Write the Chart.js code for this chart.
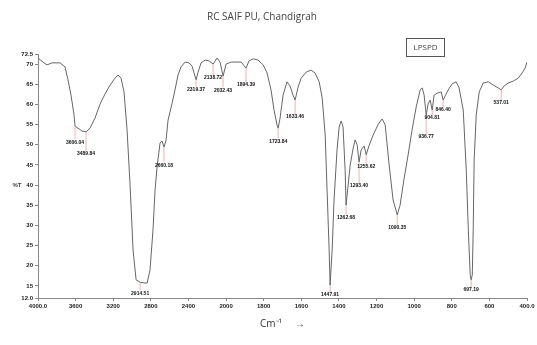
<!DOCTYPE html>
<html lang="en">
<head>
    <meta charset="UTF-8">
    <title>RC SAIF PU, Chandigrah</title>
    <script src="https://cdn.jsdelivr.net/npm/chart.js@4.4.1/dist/chart.umd.min.js"></script>
    <style>
      body { margin: 0; background: #fff; }
      #wrap { width: 537px; height: 345px; }
    </style>
</head>
<body>
<div id="wrap"><canvas id="irChart" width="537" height="345"></canvas></div>

<script>
  // spectrum: wavenumber (cm-1) and %T
  var waveNumbers = [4000, 3947, 3904, 3851, 3766, 3713, 3681, 3649, 3617, 3606, 3574, 3532, 3489, 3447, 3394,
    3340, 3287, 3234, 3181, 3149, 3117, 3085, 3053, 3021, 2989, 2957, 2914, 2862, 2840, 2809, 2777, 2755, 2734,
    2702, 2681, 2660, 2638, 2617, 2574, 2543, 2511, 2479, 2436, 2394, 2362, 2319, 2298, 2266, 2223, 2181, 2138,
    2096, 2064, 2032, 2000, 1973, 1920, 1894, 1878, 1856, 1830, 1803, 1782, 1761, 1745, 1729, 1723, 1713, 1697,
    1676, 1660, 1644, 1633, 1617, 1601, 1574, 1548, 1527, 1505, 1489, 1473, 1463, 1452, 1447, 1436, 1426, 1410,
    1399, 1388, 1378, 1367, 1362, 1351, 1340, 1324, 1314, 1303, 1293, 1282, 1266, 1255, 1239, 1218, 1191, 1170,
    1154, 1133, 1112, 1090, 1075, 1053, 1032, 1011, 989, 968, 957, 947, 936, 926, 915, 904, 894, 878, 856, 846,
    835, 819, 798, 777, 761, 739, 723, 712, 702, 697, 691, 686, 681, 670, 654, 633, 606, 580, 553, 537, 521, 500,
    473, 447, 426, 410, 400]
  var transmittance = [71.5, 70.5, 69.8, 70.3, 70.3, 69.3, 66.1, 62.3, 57.4, 54.6, 54.1, 53.4, 53.2, 54.1, 56.6,
    60.1, 62.6, 64.8, 66.5, 67.3, 66.5, 63.1, 53.7, 40.0, 23.9, 16.5, 15.9, 15.7, 15.7, 18.9, 28.9, 38.8, 44.5,
    50.4, 50.9, 49.4, 51.2, 56.1, 60.3, 63.6, 67.3, 69.3, 70.5, 70.3, 69.5, 66.1, 68.0, 70.3, 71.0, 70.8, 70.0,
    71.5, 70.5, 67.0, 70.0, 70.5, 70.5, 69.0, 70.8, 71.3, 71.0, 69.8, 67.8, 63.6, 58.6, 54.9, 54.1, 56.6, 62.3,
    65.6, 64.6, 62.3, 61.1, 64.3, 66.5, 68.0, 68.5, 67.8, 65.6, 61.6, 52.4, 38.8, 23.9, 15.2, 23.9, 36.3, 48.7,
    54.4, 55.9, 54.4, 43.7, 35.0, 40.0, 45.0, 49.2, 51.2, 50.0, 45.7, 48.7, 49.7, 47.5, 49.9, 52.4, 55.1, 56.4,
    54.9, 45.0, 36.3, 32.6, 35.0, 41.7, 47.5, 53.7, 59.4, 63.6, 64.1, 62.3, 57.4, 60.1, 61.1, 58.6, 62.3, 62.8, 63.1, 61.1,
    62.1, 63.6, 65.1, 65.6, 64.1, 58.6, 43.7, 28.9, 17.7, 16.5, 17.7, 28.9, 46.2, 57.4, 63.1, 65.3, 65.6, 64.8, 64.1, 63.6, 64.6, 65.3,
    65.8, 66.5, 67.8, 69.0, 70.5]

  // marked peaks
  var peakWave = [3606, 3489, 2914, 2660, 2319, 2138, 2032, 1894, 1723, 1633, 1447, 1362, 1293, 1255, 1090, 936, 904, 846, 697, 537]
  var peakT = [54.6, 53.2, 15.9, 49.4, 66.1, 70.0, 67.0, 69.0, 54.1, 61.1, 15.2, 35.0, 45.7, 47.5, 32.6, 57.4, 58.6, 61.1, 16.5, 63.6]
  var peakText = ['3606.04', '3489.84', '2914.51', '2660.18', '2319.37', '2138.72', '2032.43', '1894.39', '1723.84',
    '1633.46', '1447.91', '1362.68', '1293.40', '1255.62', '1090.35', '936.77', '904.81', '846.40', '697.19', '537.01']

  var xTicks = [4000, 3600, 3200, 2800, 2400, 2000, 1800, 1600, 1400, 1200, 1000, 800, 600, 400]
  var xTickText = ['4000.0', '3600', '3200', '2800', '2400', '2000', '1800', '1600', '1400', '1200', '1000', '800', '600', '400.0']
  var yTicks = [12, 15, 20, 25, 30, 35, 40, 45, 50, 55, 60, 65, 70, 72.5]
  var yTickText = ['12.0', '15', '20', '25', '30', '35', '40', '45', '50', '55', '60', '65', '70', '72.5']

  // how far below each peak its label sits (px)
  var labelDrop = [16, 22, 11, 18, 10, 14, 14, 17, 13, 17, 10, 12, 24, 12, 13, 22, 8, 10, 10, 13]

  // x axis like the instrument: 400 per division above 2000, 200 per division below
  class WaveScale extends Chart.LinearScale {
    getPixelForValue(value) {
      var u = value >= 2000 ? (4000 - value) / 400 : 5 + (2000 - value) / 200
      return this.getPixelForDecimal(u / 13)
    }
    getValueForPixel(pixel) {
      var u = this.getDecimalForPixel(pixel) * 13
      return u <= 5 ? 4000 - u * 400 : 2000 - (u - 5) * 200
    }
  }
  WaveScale.id = 'wave'
  WaveScale.defaults = Chart.LinearScale.defaults
  Chart.register(WaveScale)

  var tickFont = { family: 'Liberation Sans', size: 6, weight: 'bold' }

  var extras = {
    id: 'extras',
    afterDatasetsDraw: function(chart) {
      var ctx = chart.ctx
      var sx = chart.scales.x, sy = chart.scales.y
      ctx.save()
      // peak markers
      ctx.font = 'bold 5px "Liberation Sans"'
      ctx.textAlign = 'center'
      ctx.textBaseline = 'middle'
      for (var i = 0; i < peakWave.length; i++) {
        var px = sx.getPixelForValue(peakWave[i])
        var py = sy.getPixelForValue(peakT[i])
        var ly = py + labelDrop[i]
        ctx.strokeStyle = '#e8a0a0'
        ctx.lineWidth = 0.8
        ctx.beginPath()
        ctx.moveTo(px, py)
        ctx.lineTo(px, ly - 3)
        ctx.stroke()
        ctx.fillStyle = '#111'
        ctx.fillText(peakText[i], px, ly)
      }
      // title
      ctx.font = '10px "Open Sans"'
      ctx.fillStyle = '#444'
      ctx.fillText('RC SAIF PU, Chandigrah', 262, 17)
      // sample tag
      ctx.strokeStyle = '#555'
      ctx.lineWidth = 1
      ctx.strokeRect(406.5, 38.5, 38, 18)
      ctx.font = '8px "Open Sans"'
      ctx.fillText('LPSPD', 425.5, 48)
      // y label
      ctx.font = 'bold 6px "Liberation Sans"'
      ctx.fillText('%T', 17, sy.getPixelForValue(40))
      ctx.restore()
    }
  }

  var ctx = document.getElementById('irChart').getContext('2d')
  var irChart = new Chart(ctx, {
    type: 'line',
    data: {
      datasets: [{
        data: waveNumbers.map(function(w, i) { return { x: w, y: transmittance[i] } }),
        borderColor: '#666',
        borderWidth: 1,
        pointRadius: 0,
        tension: 0,
        fill: false
      }]
    },
    options: {
      responsive: false,
      animation: false,
      events: [],
      layout: { padding: { top: 54, right: 10, left: 0, bottom: 0 } },
      plugins: { legend: { display: false }, title: { display: false }, tooltip: { enabled: false } },
      scales: {
        x: {
          type: 'wave',
          min: 400,
          max: 4000,
          afterBuildTicks: function(s) { s.ticks = xTicks.map(function(v) { return { value: v } }) },
          afterFit: function(s) { s.height = 47 },
          grid: { drawOnChartArea: false, drawTicks: true, tickLength: 3, color: '#888' },
          border: { color: '#888' },
          ticks: {
            autoSkip: false, maxRotation: 0, padding: 2, color: '#222', font: tickFont,
            callback: function(v, i) { return xTickText[i] }
          },
          title: { display: true, text: 'Cm\u207B\u00B9     \u2192', color: '#333', font: { family: 'Open Sans', size: 10 }, padding: { top: 0, bottom: 15 } }
        },
        y: {
          min: 12,
          max: 72.5,
          afterBuildTicks: function(s) { s.ticks = yTicks.map(function(v) { return { value: v } }) },
          afterFit: function(s) { s.width = 38 },
          grid: { drawOnChartArea: false, drawTicks: true, tickLength: 3, color: '#888' },
          border: { color: '#888' },
          ticks: {
            autoSkip: false, padding: 2, color: '#222', font: tickFont,
            callback: function(v, i) { return yTickText[i] }
          }
        }
      }
    },
    plugins: [extras]
  })
</script>
</body>
</html>
